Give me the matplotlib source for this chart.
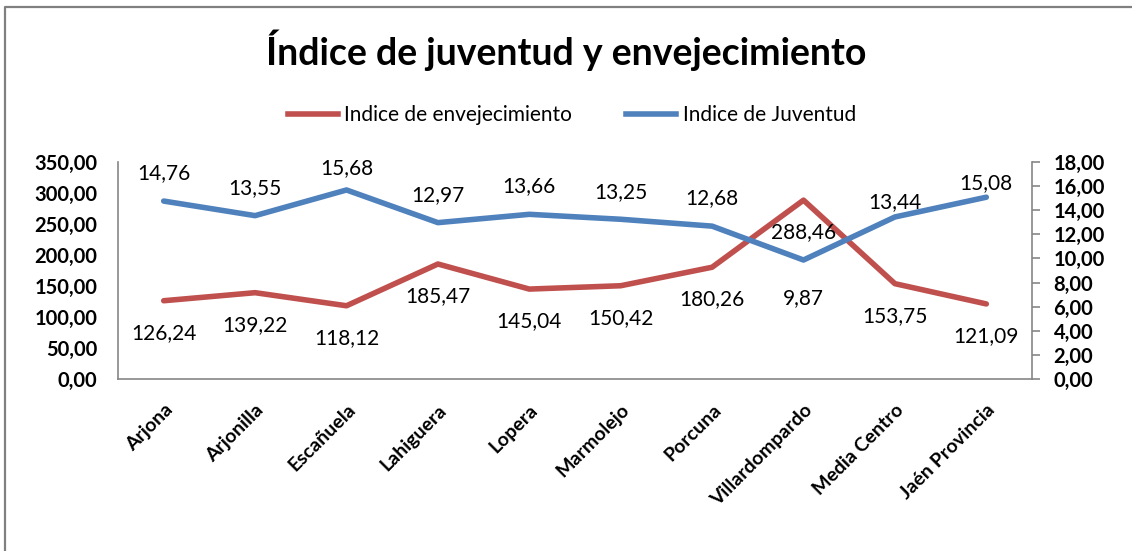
import matplotlib
matplotlib.use("Agg")
import matplotlib.pyplot as plt
from matplotlib.lines import Line2D
from matplotlib.ticker import FuncFormatter, MultipleLocator

plt.rcParams['font.family'] = ['Lato', 'DejaVu Sans']

categories = ["Arjona", "Arjonilla", "Escañuela", "Lahiguera", "Lopera",
              "Marmolejo", "Porcuna", "Villardompardo", "Media Centro", "Jaén Provincia"]
envejecimiento = [126.24, 139.22, 118.12, 185.47, 145.04, 150.42, 180.26, 288.46, 153.75, 121.09]
juventud = [14.76, 13.55, 15.68, 12.97, 13.66, 13.25, 12.68, 9.87, 13.44, 15.08]

title = "Índice de juventud y envejecimiento"
label_env = "Indice de envejecimiento"
label_juv = "Indice de Juventud"

RED = "#C0504D"
BLUE = "#4F81BD"
GRID = "#868686"

# label offsets in pixels (styling)
off_env = [-32] * 10
off_juv = [28, 28, 22, 28, 28, 27, 28, -38, 15, 14]

W, H = 1132, 551
fig = plt.figure(figsize=(W / 100, H / 100), dpi=100)
fig.patch.set_facecolor("white")

# outer border (top and left edges only visible)
fig.add_artist(Line2D([5 / W, 5 / W, 1.0], [0.0, 1 - 7 / H, 1 - 7 / H],
                      transform=fig.transFigure, color="#808080", linewidth=1.6))

ax = fig.add_axes([118 / W, 1 - 379 / H, (1032 - 118) / W, (379 - 162) / H])
ax2 = ax.twinx()

x = list(range(len(categories)))
ax.plot(x, envejecimiento, color=RED, linewidth=4.0, solid_capstyle="round", zorder=3)
ax2.plot(x, juventud, color=BLUE, linewidth=4.0, solid_capstyle="round", zorder=3)

ax.set_xlim(-0.5, len(categories) - 0.5)
ax.set_ylim(0, 350)
ax2.set_ylim(0, 18)
ax.yaxis.set_major_locator(MultipleLocator(50))
ax2.yaxis.set_major_locator(MultipleLocator(2))

fmt = FuncFormatter(lambda v, p: f"{v:.2f}".replace(".", ","))
ax.yaxis.set_major_formatter(fmt)
ax2.yaxis.set_major_formatter(fmt)

for a in (ax, ax2):
    for s in a.spines.values():
        s.set_visible(False)
ax.spines['left'].set_visible(True)
ax.spines['bottom'].set_visible(True)
ax2.spines['right'].set_visible(True)
for s in (ax.spines['left'], ax.spines['bottom'], ax2.spines['right']):
    s.set_color(GRID)
    s.set_linewidth(1.2)

ax.yaxis.set_tick_params(which='major', length=0, pad=15, labelsize=14.5)
ax.xaxis.set_tick_params(which='major', length=0, pad=16)
ax2.yaxis.set_tick_params(which='major', direction='out', length=5.5, width=1.2,
                          color=GRID, pad=10, labelsize=14.5, right=True, labelright=True)
for lab in ax.get_yticklabels() + ax2.get_yticklabels():
    lab.set_fontweight('bold')

ax.set_xticks(x)
ax.set_xticklabels(categories, rotation=45, ha='right', rotation_mode='anchor',
                   fontsize=14, fontweight='bold')

for i, v in enumerate(envejecimiento):
    ax.annotate(f"{v:.2f}".replace(".", ","), (i, v), xytext=(0, off_env[i]),
                textcoords='offset pixels', ha='center', va='center', fontsize=15,
                zorder=5)
for i, v in enumerate(juventud):
    ax2.annotate(f"{v:.2f}".replace(".", ","), (i, v), xytext=(0, off_juv[i]),
                 textcoords='offset pixels', ha='center', va='center', fontsize=15,
                 zorder=5)

fig.text(566 / W, 1 - 50 / H, title, ha='center', va='center', fontsize=27, fontweight='bold')

handles = [Line2D([0], [0], color=RED, linewidth=4.0),
           Line2D([0], [0], color=BLUE, linewidth=4.0)]
fig.legend(handles, [label_env, label_juv], loc='center', bbox_to_anchor=(572 / W, 1 - 115 / H),
           ncol=2, frameon=False, fontsize=15, handlelength=2.4, handletextpad=0.3,
           columnspacing=2.6)

fig.savefig("out.png", dpi=100)
